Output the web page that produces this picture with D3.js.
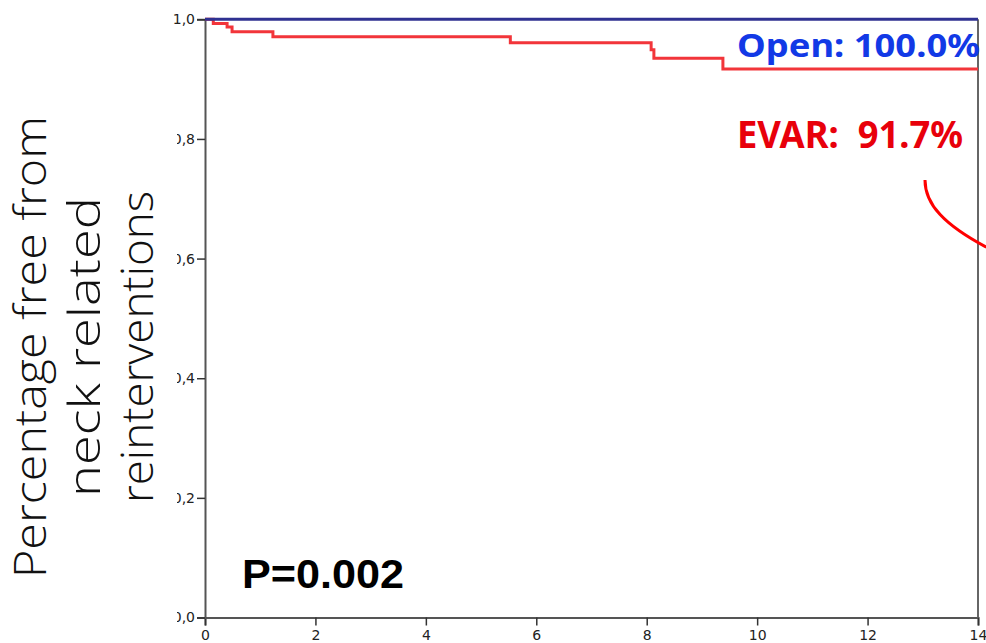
<!DOCTYPE html>
<html>
<head>
<meta charset="utf-8">
<script src="https://cdn.jsdelivr.net/npm/d3@7"></script>
<style>
  html, body { margin: 0; padding: 0; background: #fff; }
  svg { display: block; }
</style>
</head>
<body>
<svg id="chart" width="986" height="643"></svg>
<script>
// Kaplan-Meier freedom from neck-related reinterventions (years of follow-up)
const evarTimes = [0, 0.15, 0.40, 0.49, 1.23, 5.53, 8.08, 8.13, 9.38];
const evarSurv  = [1.0, 0.993, 0.987, 0.979, 0.971, 0.961, 0.949, 0.935, 0.917];
const openTimes = [0];
const openSurv  = [1.0];
const followUpEnd = 14;

const xTicks = [0, 2, 4, 6, 8, 10, 12, 14];
const yTicks = [0, 0.2, 0.4, 0.6, 0.8, 1.0];
const yTickLabels = ["0,0", "0,2", "0,4", "0,6", "0,8", "1,0"];

const titleLines = ["Percentage free from", "neck related", "reinterventions"];
const openLabel = "Open: 100.0%";
const evarLabel = "EVAR:\u00a0 91.7%";
const pLabel = "P=0.002";

const svg = d3.select("#chart");
const x = d3.scaleLinear().domain([0, 14]).range([205, 978]);
const y = d3.scaleLinear().domain([0, 1]).range([617.5, 19.3]);

const axisColor = "#555";

// axes
const gx = svg.append("g").attr("transform", `translate(0,${y(0)})`)
  .call(d3.axisBottom(x).tickValues(xTicks).tickSize(8).tickFormat(d3.format("d")));
const gy = svg.append("g").attr("transform", `translate(${x(0)},0)`)
  .call(d3.axisLeft(y).tickValues(yTicks).tickSize(8)
    .tickFormat((d, i) => yTickLabels[i]));
[gx, gy].forEach(g => {
  g.select(".domain").attr("stroke", axisColor).attr("stroke-width", 2);
  g.selectAll(".tick line").attr("stroke", "#333").attr("stroke-width", 1.5);
  g.selectAll(".tick text")
    .style("font-family", "'DejaVu Sans', sans-serif")
    .style("font-size", "14px")
    .attr("fill", "#222");
});
gx.selectAll(".tick text").attr("dy", "0.95em").attr("y", 9);
gy.selectAll(".tick text").attr("x", -10);

// white title box overlapping the left edge of the lower tick labels
svg.append("rect")
  .attr("x", 0).attr("y", y(0.9)).attr("width", 177).attr("height", 643 - y(0.9))
  .attr("fill", "#fff");

// y axis title (rotated, three lines)
const title = svg.append("text")
  .attr("transform", "translate(0,347) rotate(-90)")
  .attr("text-anchor", "middle")
  .style("font-family", "'Open Sans', 'DejaVu Sans', sans-serif")
  .style("font-weight", 300)
  .style("font-size", "44px")
  .attr("fill", "#111");
const baselines = [46, 100, 153];
const lengths = [462, 300, 312];
titleLines.forEach((t, i) => {
  title.append("tspan")
    .attr("x", 0)
    .attr("y", baselines[i])
    .attr("textLength", lengths[i])
    .attr("lengthAdjust", "spacingAndGlyphs")
    .text(t);
});

// right frame
svg.append("line")
  .attr("x1", x(14)).attr("x2", x(14)).attr("y1", y(1)).attr("y2", y(0))
  .attr("stroke", "#666").attr("stroke-width", 2);

// survival curves
const step = d3.line().x(d => x(d[0])).y(d => y(d[1])).curve(d3.curveStepAfter);
const series = (times, surv) => {
  const pts = times.map((t, i) => [t, surv[i]]);
  pts.push([followUpEnd, surv[surv.length - 1]]);
  return pts;
};

svg.append("path")
  .datum(series(evarTimes, evarSurv))
  .attr("d", step)
  .attr("fill", "none")
  .attr("stroke", "#f2353a")
  .attr("stroke-width", 3);

svg.append("path")
  .datum(series(openTimes, openSurv))
  .attr("d", step)
  .attr("fill", "none")
  .attr("stroke", "#2f3191")
  .attr("stroke-width", 3);

// annotations
svg.append("text")
  .attr("x", 737).attr("y", 57)
  .attr("textLength", 243).attr("lengthAdjust", "spacingAndGlyphs")
  .style("font-family", "'Noto Sans', 'DejaVu Sans', sans-serif")
  .style("font-weight", 700)
  .style("font-size", "33px")
  .attr("fill", "#1239e6")
  .text(openLabel);

svg.append("text")
  .attr("x", 737).attr("y", 148)
  .attr("textLength", 226).attr("lengthAdjust", "spacingAndGlyphs")
  .style("font-family", "'Noto Sans', 'DejaVu Sans', sans-serif")
  .style("font-weight", 700)
  .style("font-size", "38px")
  .attr("fill", "#e8000b")
  .text(evarLabel);

svg.append("text")
  .attr("x", 242).attr("y", 588)
  .attr("textLength", 162).attr("lengthAdjust", "spacingAndGlyphs")
  .style("font-family", "'Liberation Sans', Arial, sans-serif")
  .style("font-weight", 700)
  .style("font-size", "41px")
  .attr("fill", "#000")
  .text(pLabel);

// curved pointer towards the EVAR curve
const arrow = d3.path();
arrow.moveTo(x(13.04), y(0.7315));
arrow.bezierCurveTo(x(13.04), y(0.690), x(13.40), y(0.656), x(14.15), y(0.619));
svg.append("path")
  .attr("d", arrow.toString())
  .attr("fill", "none")
  .attr("stroke", "#ff0000")
  .attr("stroke-width", 3);
</script>
</body>
</html>
